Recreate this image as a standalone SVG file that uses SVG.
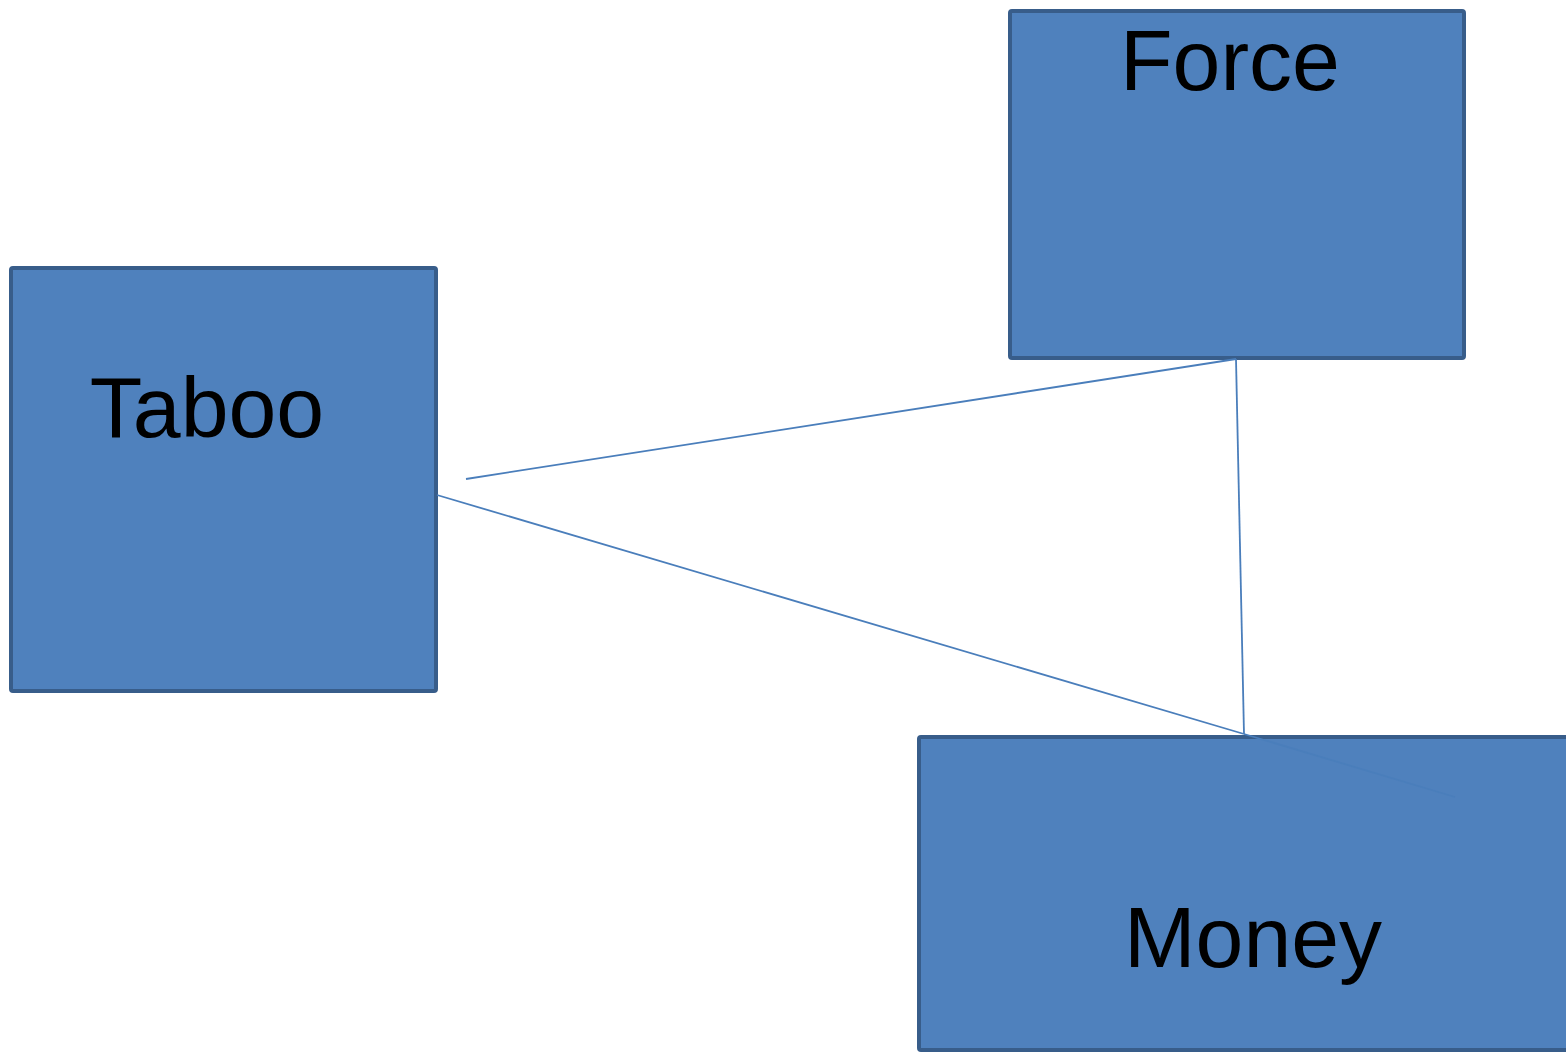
<svg xmlns="http://www.w3.org/2000/svg" width="1566" height="1053" viewBox="0 0 1566 1053">
<style>
.box{fill:#4f81bd;stroke:#385d8a;stroke-width:4}
.lbl{font-family:"Liberation Sans",Arial,sans-serif;font-size:86px;fill:#000;text-anchor:middle}
.con{stroke:#4a7ebb;stroke-width:1.8;fill:none}
</style>
<rect width="1566" height="1053" fill="#fff"/>
<g id="force"><rect class="box" x="1010" y="11" width="454" height="347" rx="2"/><text class="lbl" x="1230" y="90">Force</text></g>
<g id="taboo"><rect class="box" x="11" y="268" width="425" height="423" rx="2"/><text class="lbl" x="207" y="437">Taboo</text></g>
<g id="money"><rect class="box" x="919" y="737" width="660" height="313" rx="2"/><text class="lbl" x="1253" y="967">Money</text></g>
<g id="connectors">
<line class="con" x1="466" y1="479" x2="1236" y2="359"/>
<line class="con" x1="1236" y1="359" x2="1244" y2="734"/>
<line class="con" x1="437" y1="495" x2="1244" y2="734"/>
<line class="con" x1="1244" y1="734" x2="1455" y2="797" stroke="#4d80bf"/>
</g>
</svg>
